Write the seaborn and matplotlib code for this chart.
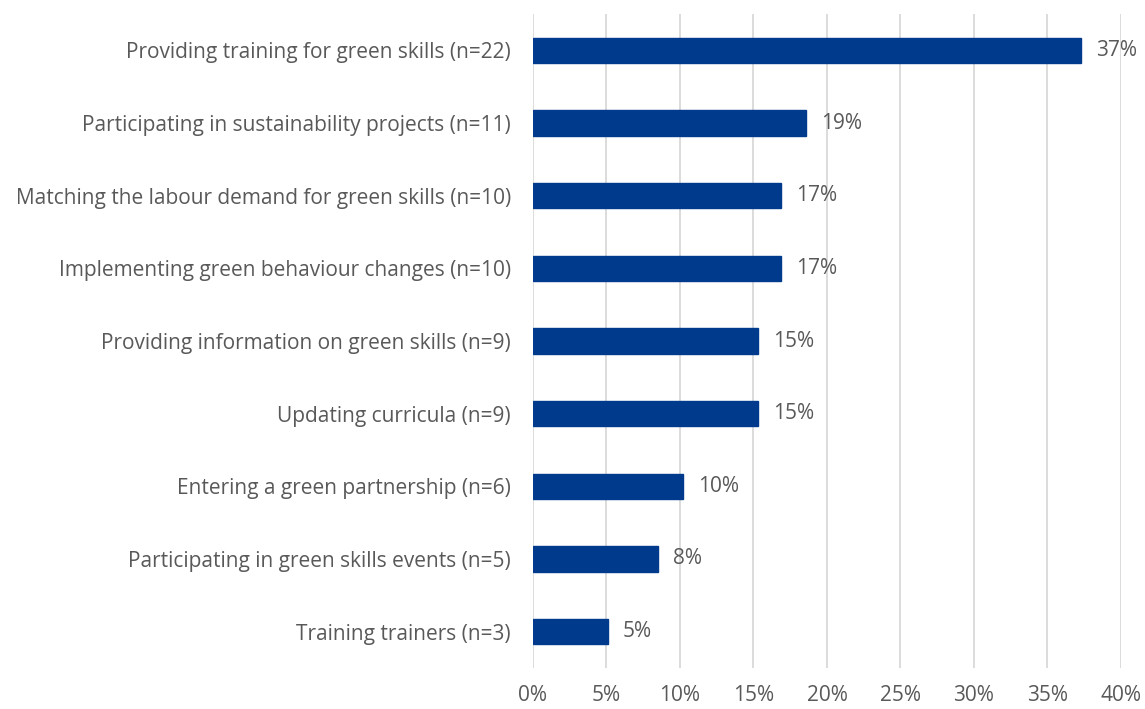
import matplotlib
matplotlib.use("Agg")
import matplotlib.pyplot as plt
import seaborn as sns
import pandas as pd
from matplotlib.ticker import FuncFormatter, MultipleLocator

# --- Dados ---
categorias = [
    "Providing training for green skills (n=22)",
    "Participating in sustainability projects (n=11)",
    "Matching the labour demand for green skills (n=10)",
    "Implementing green behaviour changes (n=10)",
    "Providing information on green skills (n=9)",
    "Updating curricula (n=9)",
    "Entering a green partnership (n=6)",
    "Participating in green skills events (n=5)",
    "Training trainers (n=3)",
]
percentuais = [37.3, 18.6, 16.9, 16.9, 15.3, 15.3, 10.2, 8.5, 5.1]
rotulos = ["37%", "19%", "17%", "17%", "15%", "15%", "10%", "8%", "5%"]

COR_BARRA = "#003A8C"
COR_TEXTO = "#595959"
TAM_FONTE = 15

sns.set_theme(style="white")
plt.rcParams["font.family"] = ["Open Sans", "DejaVu Sans"]

df = pd.DataFrame({"categoria": categorias, "valor": percentuais})

fig = plt.figure(figsize=(11.45, 7.09), dpi=100)
ax = fig.add_axes([0.4655, 0.058, 0.5135, 0.922])
sns.barplot(data=df, x="valor", y="categoria", color=COR_BARRA, width=0.35,
            orient="h", ax=ax, saturation=1, edgecolor=COR_BARRA)

ax.set_xlim(0, 40)
ax.set_ylim(8.5, -0.5)
ax.xaxis.set_major_locator(MultipleLocator(5))
ax.xaxis.set_major_formatter(FuncFormatter(lambda v, p: f"{v:.0f}%"))
ax.grid(axis="x", color="#D9D9D9", linewidth=1.3)
ax.set_axisbelow(True)
for s in ax.spines.values():
    s.set_visible(False)
ax.set_xlabel("")
ax.set_ylabel("")
ax.tick_params(axis="both", length=0, labelsize=TAM_FONTE, labelcolor=COR_TEXTO)
ax.tick_params(axis="x", pad=12)
ax.tick_params(axis="y", pad=16)

for i, (v, r) in enumerate(zip(percentuais, rotulos)):
    ax.text(v + 1.0, i, r, va="center", ha="left", fontsize=TAM_FONTE, color=COR_TEXTO)

fig.savefig("out.png", dpi=100)
plt.close(fig)
